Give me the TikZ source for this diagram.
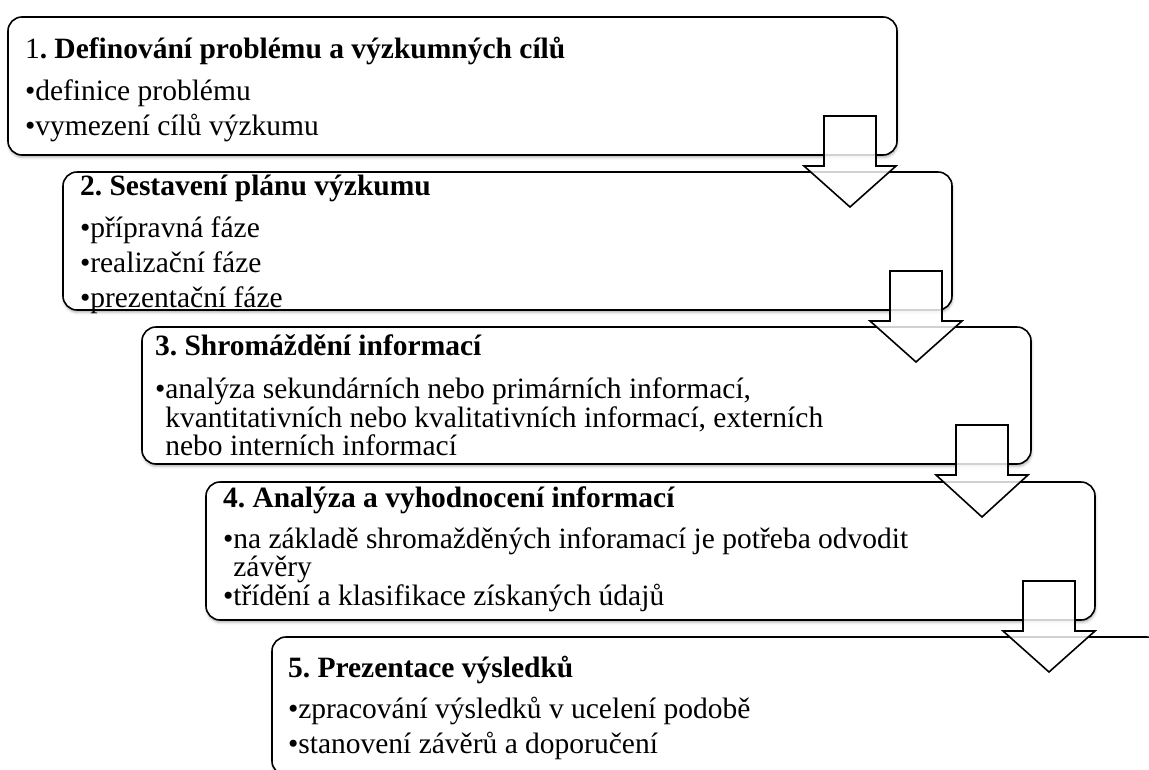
\documentclass[tikz,border=0pt]{standalone}
\usepackage{fontspec}
\setmainfont{Liberation Serif}
\usetikzlibrary{calc,shadows.blur}
\frenchspacing

\tikzset{
  stagebox/.style={rectangle, draw=black, line width=1.6pt, rounded corners=14pt,
    fill=white, anchor=north west, inner sep=0pt, outer sep=0pt,
    minimum width=889pt, minimum height=138pt,
    blur shadow={shadow xshift=0.6pt, shadow yshift=-2.4pt,
                 shadow blur radius=2.5pt, shadow opacity=30}},
  flowarrow/.style={draw=black, line width=1.6pt, line join=miter,
    fill=white, fill opacity=0.82},
  txtline/.style={anchor=base west, inner sep=0pt, outer sep=0pt,
    font=\fontsize{29.5pt}{34pt}\selectfont},
  txthead/.style={txtline, font=\fontsize{29.5pt}{34pt}\selectfont\bfseries},
}

% block arrow from one stage to the next:
% #1 = upper stage, #2 = lower stage, #3 = offset of the arrow axis from #1's right edge
\newcommand{\flowarrow}[3]{%
  \draw[flowarrow] let \p1=(#1.south east), \p2=(#2.north) in
    ({\x1+#3-26pt},{\y1+39pt}) -- ({\x1+#3+26pt},{\y1+39pt}) --
    ({\x1+#3+26pt},{\y1-11pt}) -- ({\x1+#3+46pt},{\y1-11pt}) --
    ({\x1+#3},{\y2-35pt}) --
    ({\x1+#3-46pt},{\y1-11pt}) -- ({\x1+#3-26pt},{\y1-11pt}) -- cycle;}

\begin{document}
\begin{tikzpicture}[x=1pt,y=1pt]
\useasboundingbox (0,0) rectangle (1149,-769);
\clip (0,0) rectangle (1149,-769);

% stages
\node[stagebox] (s1) at (8,-17) {};
\node[stagebox] (s2) at (63,-172) {};
\node[stagebox, minimum height=137pt] (s3) at (142,-327) {};
\node[stagebox] (s4) at (206,-482) {};
\node[stagebox] (s5) at (272,-637) {};

% stage 1
\node[txthead] (t1) at (25,-58) {{\mdseries 1}. Definování problému a výzkumných cílů};
\node[txtline] (t1a) at (25,-100) {•definice problému};
\node[txtline] (t1b) at (25,-135) {•vymezení cílů výzkumu};

% stage 2
\node[txthead] (t2) at (80,-195) {2. Sestavení plánu výzkumu};
\node[txtline] (t2a) at (80,-237) {•přípravná fáze};
\node[txtline] (t2b) at (80,-272) {•realizační fáze};
\node[txtline] (t2c) at (80,-307) {•prezentační fáze};

% stage 3
\node[txthead] (t3) at (155,-355) {3. Shromáždění informací};
\node[txtline] (t3a) at (155,-398) {•analýza sekundárních nebo primárních informací,};
\node[txtline] (t3b) at (155,-427) {\phantom{•}kvantitativních nebo kvalitativních informací, externích};
\node[txtline] (t3c) at (155,-455) {\phantom{•}nebo interních informací};

% stage 4
\node[txthead] (t4) at (223,-507) {4. Analýza a vyhodnocení informací};
\node[txtline] (t4a) at (223,-548) {•na základě shromažděných inforamací je potřeba odvodit};
\node[txtline] (t4b) at (223,-576) {\phantom{•}závěry};
\node[txtline] (t4c) at (223,-605) {•třídění a klasifikace získaných údajů};

% stage 5
\node[txthead] (t5) at (288,-677) {5. Prezentace výsledků};
\node[txtline] (t5a) at (288,-718) {•zpracování výsledků v ucelení podobě};
\node[txtline] (t5b) at (288,-753) {•stanovení závěrů a doporučení};

% arrows between stages
\flowarrow{s1}{s2}{-47pt}
\flowarrow{s2}{s3}{-36pt}
\flowarrow{s3}{s4}{-49pt}
\flowarrow{s4}{s5}{-46pt}
\end{tikzpicture}
\end{document}
